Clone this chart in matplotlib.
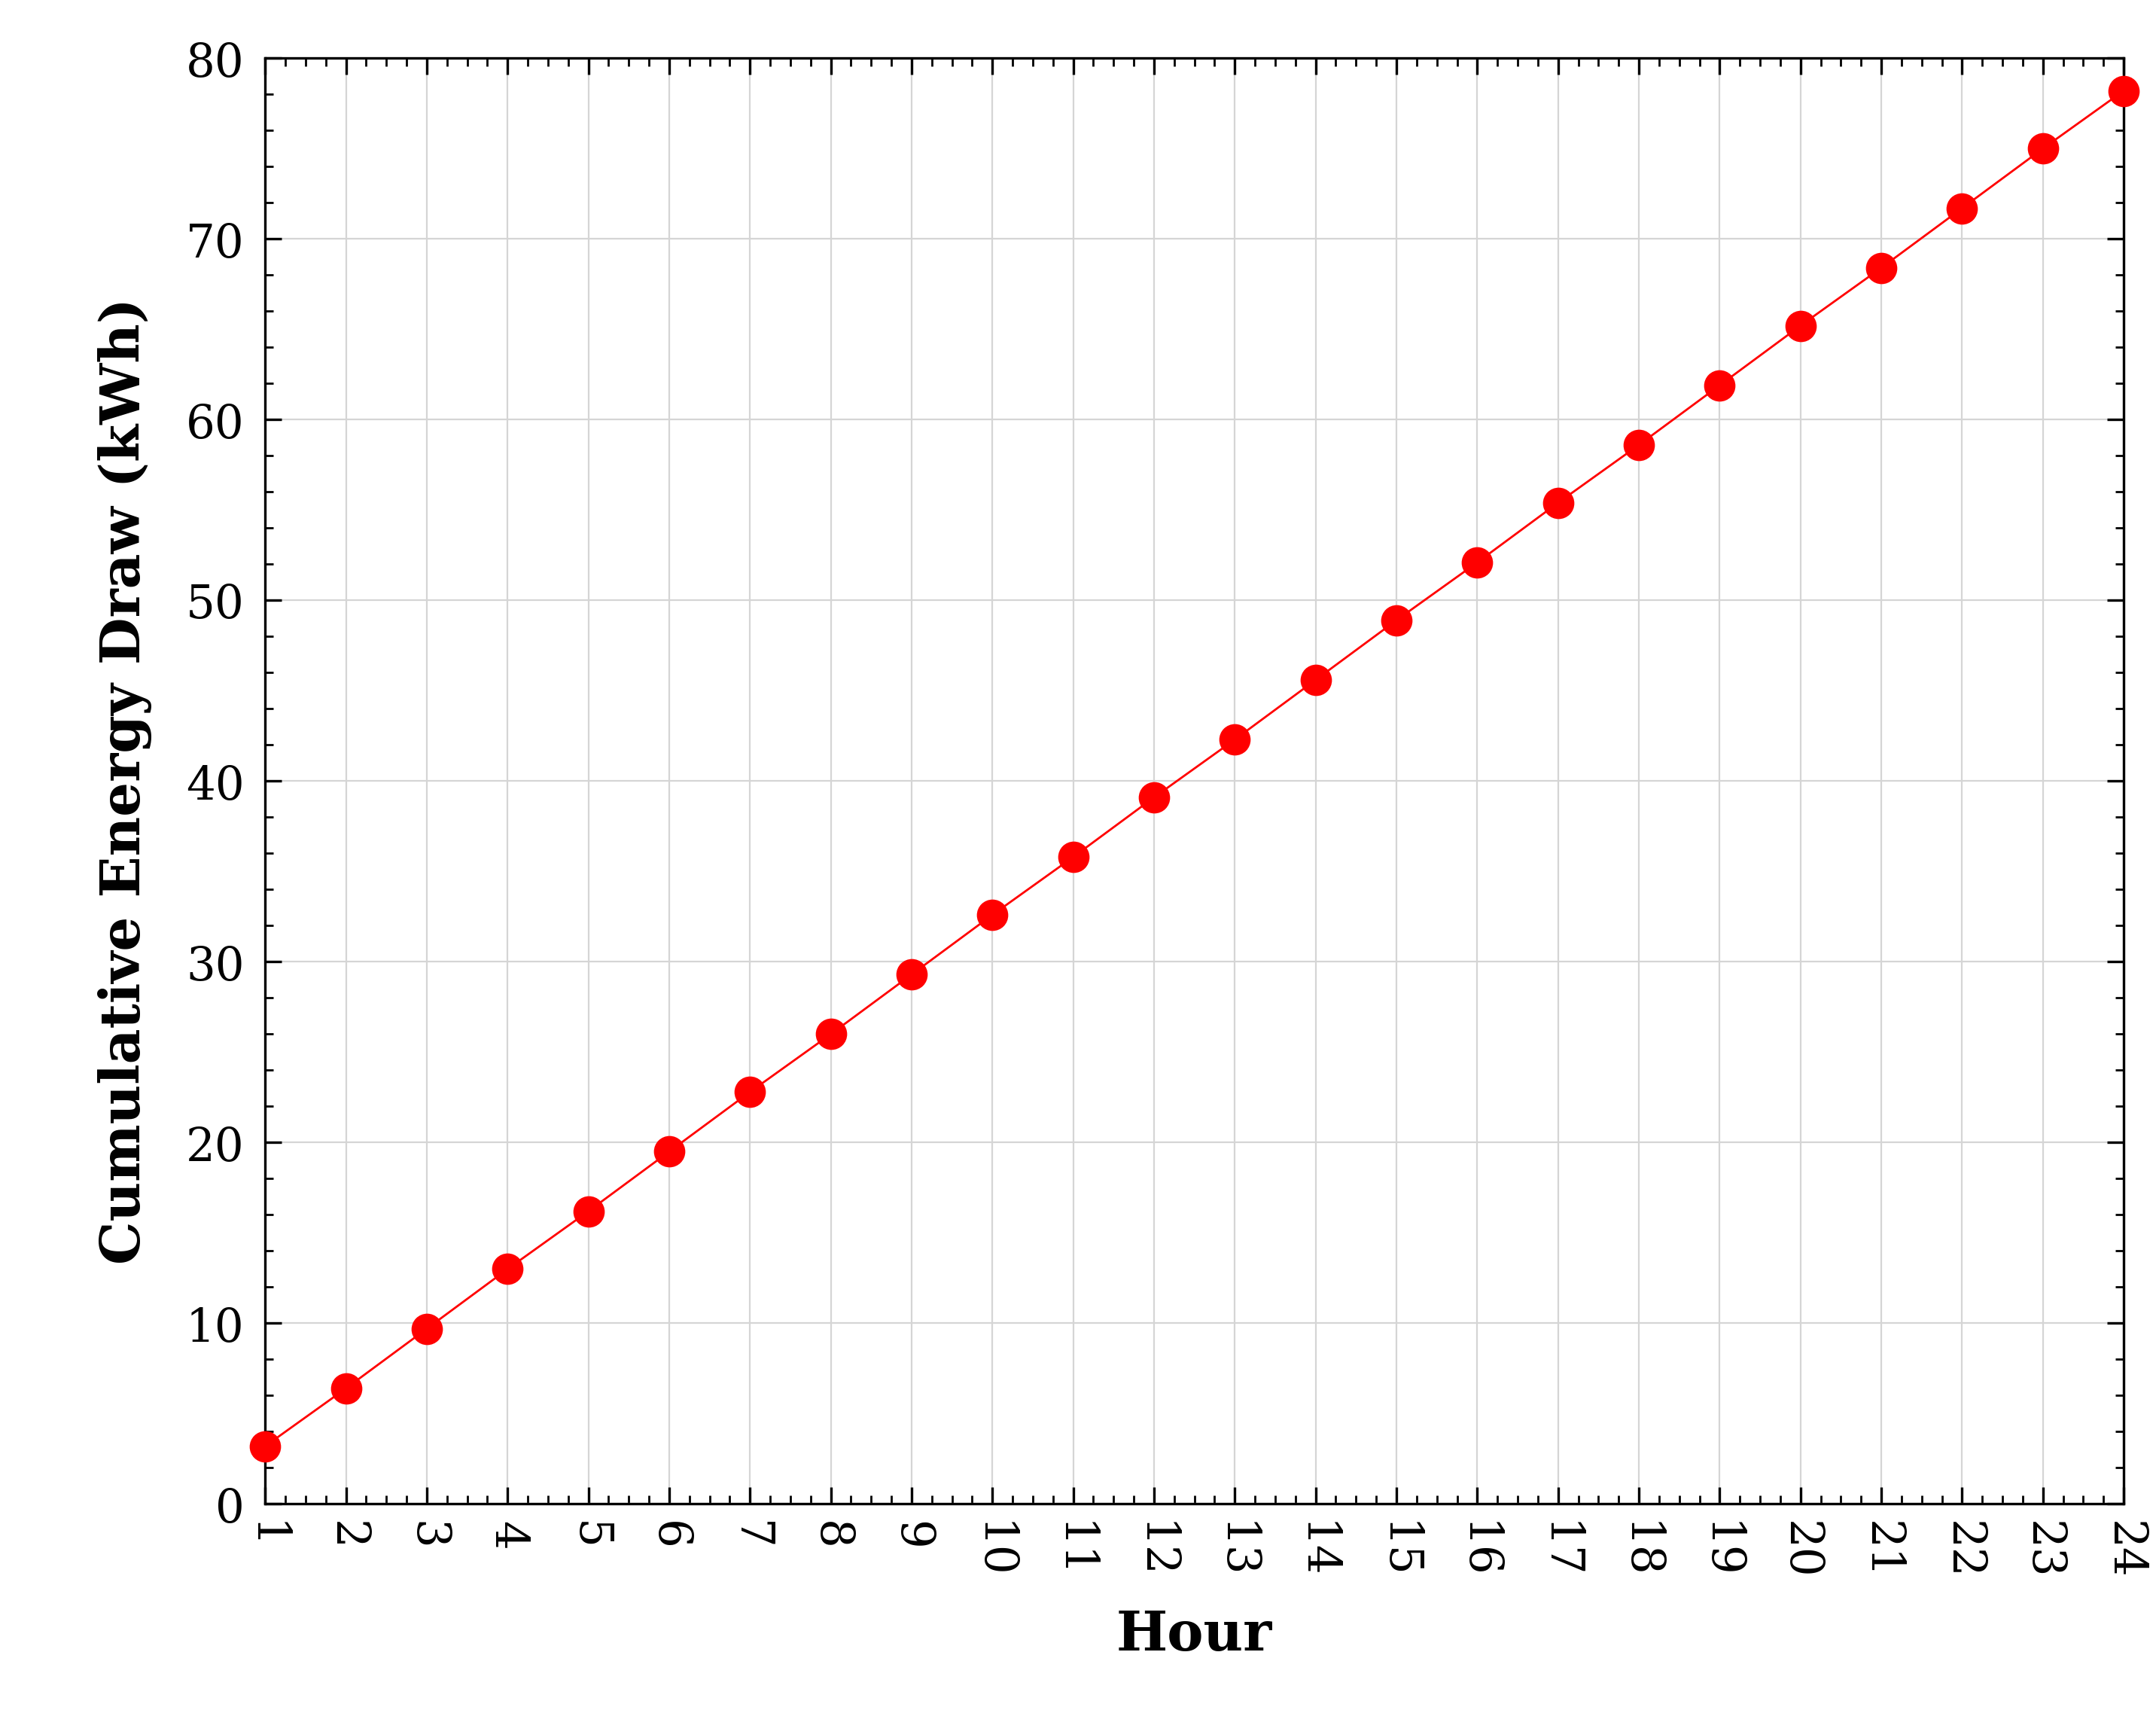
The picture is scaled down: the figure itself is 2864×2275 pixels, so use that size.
import matplotlib
matplotlib.use("Agg")
import matplotlib.pyplot as plt
from matplotlib.ticker import AutoMinorLocator

hours = list(range(1, 25))
energy = [3.2, 6.4, 9.7, 13.0, 16.2, 19.5, 22.8, 26.0, 29.3, 32.6, 35.8, 39.1,
          42.3, 45.6, 48.9, 52.1, 55.4, 58.6, 61.9, 65.2, 68.4, 71.7, 75.0, 78.2]

plt.rcParams['font.family'] = ['DejaVu Serif']
fig = plt.figure(figsize=(14.32, 11.375), dpi=200)
ax = fig.add_axes([0.123, 0.122, 0.862, 0.844])
ax.plot(hours, energy, color='red', lw=1.0, marker='o', ms=14, clip_on=False, zorder=3)
ax.set_xlim(1, 24)
ax.set_ylim(0, 80)
ax.set_xticks(hours)
ax.set_xticklabels([str(h) for h in hours], rotation=-90, fontsize=22)
ax.set_yticks(range(0, 81, 10))
ax.tick_params(axis='y', labelsize=22, pad=10)
ax.tick_params(axis='x', pad=8)
ax.xaxis.set_minor_locator(AutoMinorLocator(4))
ax.yaxis.set_minor_locator(AutoMinorLocator(5))
ax.tick_params(which='both', direction='in', top=True, right=True)
ax.tick_params(which='major', length=8, width=1.2)
ax.tick_params(which='minor', length=4, width=1)
ax.grid(True, which='major', color='#d5d5d5', lw=0.8)
ax.set_axisbelow(True)
for s in ax.spines.values():
    s.set_linewidth(1.2)
ax.set_xlabel('Hour', fontsize=26, fontweight='bold', labelpad=14)
ax.set_ylabel('Cumulative Energy Draw (kWh)', fontsize=26, fontweight='bold', labelpad=16)
fig.savefig('out.png', dpi=200)
